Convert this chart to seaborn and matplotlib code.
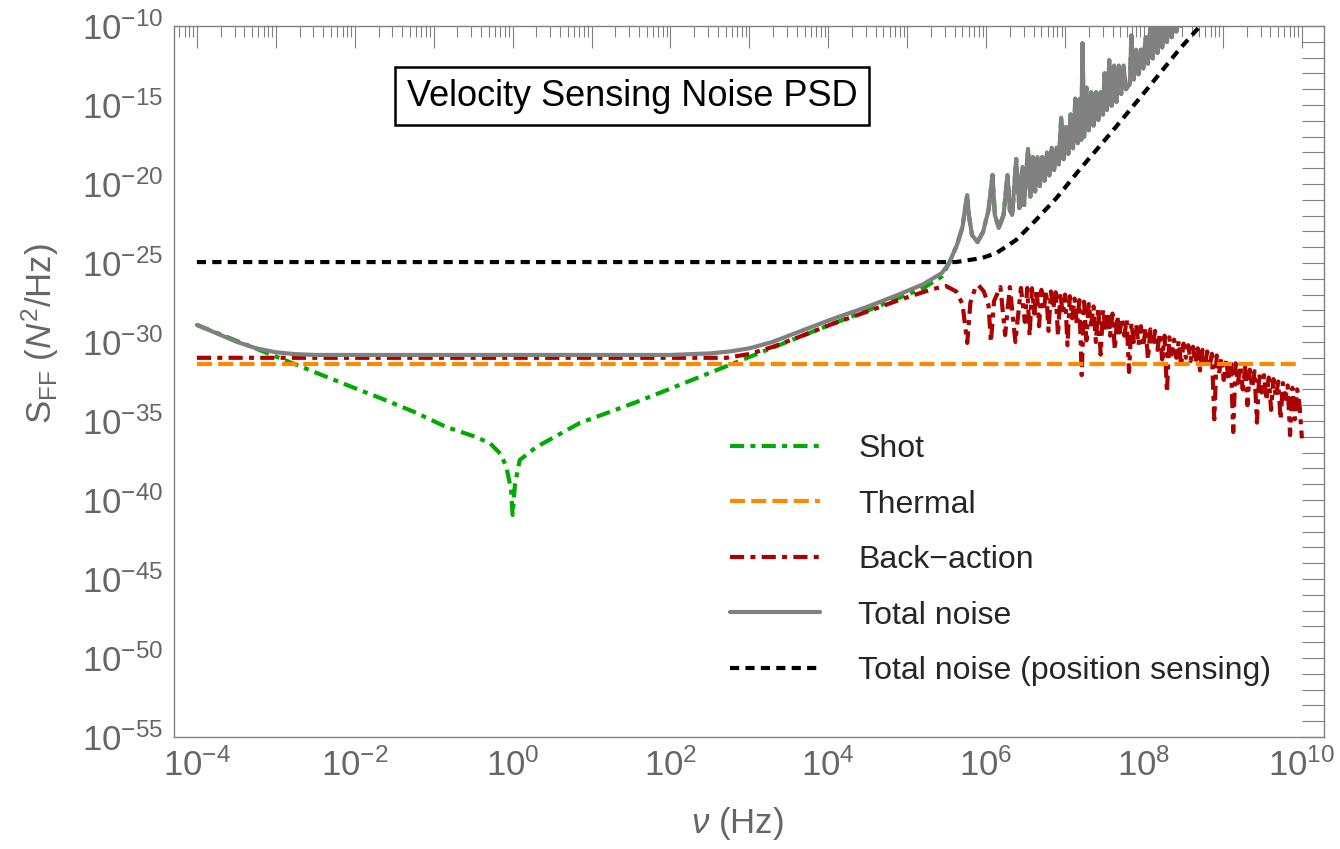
import numpy as np
import seaborn as sns
import matplotlib.pyplot as plt
from matplotlib.ticker import FixedLocator, FuncFormatter, NullFormatter

# values, as log10(frequency / Hz) and log10(PSD / N^2 Hz^-1)
shot_f = [-4.0, -3.5, -3.0, -2.5, -2.0, -1.68, -1.25, -0.84, -0.5, -0.29, -0.15, -0.08, -0.02, 0.0,
          0.03, 0.09, 0.3, 0.85, 1.57, 2.0, 2.5, 3.0, 3.5, 4.0, 4.5, 4.9, 5.2, 5.44]
shot_s = [-28.92, -29.92, -30.92, -31.92, -32.92, -33.54, -34.42, -35.38, -35.95, -36.39, -37.1, -37.9, -39.3, -40.95,
          -39.0, -37.47, -36.65, -35.13, -33.8, -32.95, -31.95, -30.95, -29.95, -28.95, -28.0, -27.2, -26.6, -25.85]

thermal_f = [-4.0, 10.0]
thermal_s = [-31.39, -31.39]

ba_f = [-4.0, 2.3, 2.71, 3.0, 3.29, 3.63, 4.05, 4.48, 4.9, 5.32, 5.49,
        5.62, 5.70, 5.76, 5.80, 5.86, 5.90, 5.97, 6.03, 6.06, 6.10, 6.18, 6.24, 6.30, 6.37, 6.44, 6.49,
        6.52, 6.55, 6.58, 6.61, 6.64, 6.67, 6.70, 6.73, 6.76, 6.79, 6.82, 6.85, 6.88, 6.91, 6.94, 6.97,
        7.00, 7.03, 7.06, 7.09, 7.12, 7.15, 7.18, 7.21, 7.24, 7.27, 7.30, 7.33, 7.36, 7.39, 7.42, 7.45,
        7.48, 7.51, 7.54, 7.57, 7.60, 7.63, 7.66, 7.69, 7.72, 7.75, 7.78, 7.81, 7.84, 7.87, 7.90, 7.93,
        7.96, 7.99, 8.02, 8.05, 8.08, 8.11, 8.14, 8.17, 8.20, 8.23, 8.26, 8.29, 8.32, 8.35, 8.38, 8.41,
        8.44, 8.47, 8.50, 8.53, 8.56, 8.59, 8.62, 8.65, 8.68, 8.71, 8.74, 8.77, 8.80, 8.83, 8.86, 8.89,
        8.92, 8.95, 8.98, 9.01, 9.04, 9.07, 9.10, 9.13, 9.16, 9.19, 9.22, 9.25, 9.28, 9.31, 9.34, 9.37,
        9.40, 9.43, 9.46, 9.49, 9.52, 9.55, 9.58, 9.61, 9.64, 9.67, 9.70, 9.73, 9.76, 9.79, 9.82, 9.85,
        9.88, 9.91, 9.94, 9.97, 10.0]
ba_s = [-31.0, -31.0, -31.0, -30.76, -30.32, -29.68, -28.86, -28.1, -27.34, -26.65, -26.46,
        -26.8, -27.6, -30.06, -27.5, -26.6, -26.39, -26.8, -27.7, -30.0, -27.4, -26.52, -29.56, -26.52, -30.0, -26.58, -28.73,
        -26.58, -29.6, -26.6, -28.2, -26.65, -29.0, -26.7, -28.0, -26.75, -29.3, -26.8, -27.9, -26.85, -29.6, -26.9, -28.3,
        -27.0, -30.2, -27.1, -28.5, -27.25, -29.0, -27.35, -32.1, -27.45, -29.9, -27.6, -28.9, -27.75, -30.0, -27.8, -30.8,
        -27.95, -29.1, -28.1, -29.6, -28.2, -30.5, -28.35, -29.4, -28.5, -29.6, -28.6, -31.9, -28.8, -30.0, -28.9, -30.2,
        -29.0, -30.3, -29.1, -31.1, -29.2, -30.2, -29.3, -30.5, -29.45, -31.1, -29.6, -33.2, -29.7, -30.8, -29.85, -31.0,
        -29.95, -31.5, -30.1, -31.0, -30.2, -31.2, -30.3, -31.3, -30.4, -31.8, -30.5, -31.5, -30.6, -31.6, -30.75, -34.9,
        -30.85, -32.0, -31.0, -32.4, -31.1, -32.3, -31.25, -35.7, -31.35, -32.6, -31.5, -33.0, -31.6, -34.0, -31.75, -32.9,
        -31.85, -35.1, -32.0, -33.2, -32.1, -33.7, -32.25, -34.3, -32.35, -33.5, -32.5, -34.9, -32.6, -33.6, -32.75, -35.9,
        -32.9, -34.9, -33.0, -34.0, -36.1]

total_f = [-4.0, -3.75, -3.5, -3.25, -3.0, -2.75, -2.5, 2.0, 2.5, 2.75, 3.0, 3.29, 3.63, 4.05, 4.48, 4.9, 5.2, 5.44]
total_s = [-28.92, -29.45, -29.98, -30.4, -30.65, -30.77, -30.82, -30.82, -30.72, -30.6, -30.4, -30.0, -29.35, -28.55, -27.8, -26.98, -26.35, -25.63]

# resonance region (shared by the shot and total curves, which coincide there)
peaks_f = [5.53, 5.63, 5.70, 5.73, 5.76, 5.78, 5.82, 5.89, 5.96, 6.03, 6.08, 6.11, 6.16, 6.22, 6.27, 6.30,
           6.33, 6.38, 6.42, 6.46, 6.48, 6.53,
           6.56, 6.59, 6.62, 6.65, 6.68, 6.71, 6.74, 6.77, 6.80, 6.83, 6.86, 6.89, 6.92, 6.95, 6.98, 7.01,
           7.04, 7.07, 7.10, 7.13, 7.16, 7.19, 7.205, 7.22, 7.24, 7.27, 7.30, 7.33, 7.36, 7.39, 7.42, 7.45,
           7.48, 7.50, 7.53, 7.56, 7.59, 7.62, 7.65, 7.68, 7.71, 7.74, 7.77, 7.80, 7.82, 7.84, 7.87, 7.90,
           7.93, 7.96, 7.99, 8.02, 8.05, 8.08, 8.11, 8.14, 8.17, 8.20, 8.23, 8.26, 8.29, 8.32, 8.35, 8.38,
           8.41, 8.44, 8.47, 8.6]
peaks_s = [-25.0, -23.86, -22.72, -21.65, -20.7, -21.96, -23.23, -23.67, -23.04, -21.65, -19.43, -21.96, -22.78, -21.96, -19.43, -21.65,
           -21.96, -18.42, -21.52, -18.92, -21.33, -17.78,
           -20.8, -18.3, -20.47, -18.3, -20.13, -18.3, -19.79, -18.0, -19.45, -17.7, -19.11, -17.7, -18.77, -15.8, -18.43, -16.4,
           -18.09, -15.6, -17.75, -14.6, -17.41, -14.6, -17.2, -11.1, -17.0, -13.9, -16.6, -14.2, -16.3, -14.2, -15.95, -14.2,
           -15.6, -13.0, -15.3, -12.15, -15.04, -12.5, -14.8, -12.5, -14.3, -12.5, -14.0, -13.8, -13.7, -10.6, -13.4, -11.5,
           -13.05, -11.5, -12.7, -10.7, -12.4, -10.0, -12.05, -9.5, -11.7, -9.5, -11.35, -9.5, -11.0, -9.5, -10.7, -9.5,
           -10.35, -9.5, -10.0, -9.0]

pos_f = [-4.0, 5.62, 5.95, 6.13, 6.38, 6.63, 6.89, 7.18, 7.59, 8.03, 8.44, 8.70, 8.85]
pos_s = [-24.94, -24.94, -24.68, -24.37, -23.54, -22.28, -20.89, -19.11, -16.71, -14.05, -11.52, -10.06, -9.2]

labels = ['Shot', 'Thermal', 'Back\u2212action', 'Total noise', 'Total noise (position sensing)']

sns.set_style('white')
plt.rcParams['font.family'] = ['Liberation Sans', 'DejaVu Sans']
plt.rcParams['mathtext.fontset'] = 'custom'
plt.rcParams['mathtext.rm'] = 'Liberation Sans'
plt.rcParams['mathtext.it'] = 'Liberation Sans:italic'
plt.rcParams['mathtext.bf'] = 'Liberation Sans:bold'

fig = plt.figure(figsize=(13.4, 8.49), dpi=100)
ax = fig.add_axes([174 / 1340, 112 / 849, 1150 / 1340, 711 / 849])

series = [
    (shot_f + peaks_f, shot_s + peaks_s, labels[0], '#00aa00', (3.4, 1.5, 1.2, 1.5), 2),
    (thermal_f, thermal_s, labels[1], '#ff8800', (3.6, 1.5), 4),
    (ba_f, ba_s, labels[2], '#aa0000', (3.4, 1.5, 1.2, 1.5), 3),
    (total_f + peaks_f, total_s + peaks_s, labels[3], '#808080', None, 5),
    (pos_f, pos_s, labels[4], 'black', (2.2, 1.5), 6),
]
for f, s, lab, col, dash, z in series:
    sns.lineplot(x=10.0 ** np.array(f), y=10.0 ** np.array(s), ax=ax, color=col, lw=3,
                 label=lab, estimator=None, sort=False, zorder=z)
    if dash is not None:
        ax.lines[-1].set_dashes(dash)

ax.set_xscale('log')
ax.set_yscale('log')
ax.set_xlim(10 ** -4.29, 10 ** 10.28)
ax.set_ylim(1e-55, 1e-10)

def exp_label(step):
    def fmt(v, pos):
        e = int(round(np.log10(v)))
        return f'$10^{{{e}}}$' if e % step == 0 else ''
    return fmt

ax.xaxis.set_major_locator(FixedLocator(10.0 ** np.arange(-5, 12)))
ax.xaxis.set_major_formatter(FuncFormatter(exp_label(2)))
ax.xaxis.set_minor_locator(FixedLocator([m * 10.0 ** e for e in range(-5, 11) for m in range(2, 10)]))
ax.xaxis.set_minor_formatter(NullFormatter())
ax.yaxis.set_major_locator(FixedLocator(10.0 ** np.arange(-55, -9)))
ax.yaxis.set_major_formatter(FuncFormatter(exp_label(5)))
ax.yaxis.set_minor_locator(FixedLocator([]))

ax.tick_params(which='both', direction='in', top=True, right=True, color='#808080',
               width=0.8, labelcolor='#666666', labelsize=25)
ax.tick_params(which='major', length=16, pad=8)
ax.tick_params(which='minor', length=8)
for sp in ax.spines.values():
    sp.set_color('#808080')
    sp.set_linewidth(1.0)

ax.set_xlabel(r'$\nu$ (Hz)', fontsize=25, color='#666666')
ax.xaxis.set_label_coords(0.49, -0.095)
ax.set_ylabel(r'$\mathrm{S}_{\mathrm{FF}}$ ($N^2$/Hz)', fontsize=25, color='#666666')
ax.yaxis.set_label_coords(-0.098, 0.567)

handles, labs = ax.get_legend_handles_labels()
order = [labs.index(l) for l in labels]
ax.legend([handles[i] for i in order], labels, loc='upper left',
          bbox_to_anchor=(730 / 1340, 1 - 434 / 849), bbox_transform=fig.transFigure,
          frameon=False, fontsize=23, handlelength=2.82, handletextpad=1.19,
          labelspacing=0.80, borderpad=0, borderaxespad=0)

ax.text(632 / 1340, 1 - 96 / 849, 'Velocity Sensing Noise PSD', transform=fig.transFigure,
        ha='center', va='center', fontsize=26, color='black', zorder=10,
        bbox=dict(boxstyle='square,pad=0.32', fc='white', ec='black', lw=1.8))

fig.savefig('out.png', dpi=100)
